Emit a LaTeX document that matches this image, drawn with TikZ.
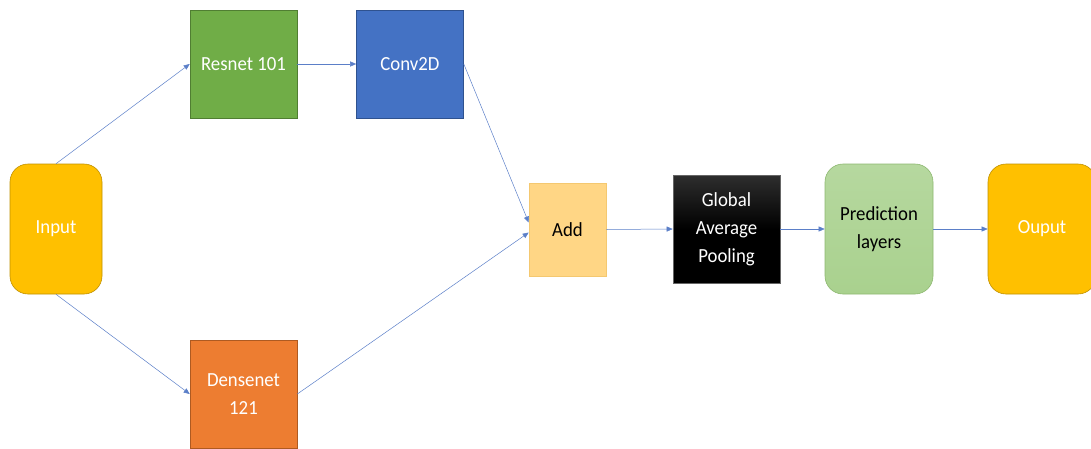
\documentclass[tikz,border=0pt]{standalone}
\usepackage{fontspec}
\setmainfont{Carlito}[FakeStretch=0.94]
\usetikzlibrary{arrows.meta,calc}
\definecolor{gold}{HTML}{FFC000}
\definecolor{goldline}{HTML}{BF9000}
\definecolor{resg}{HTML}{70AD47}
\definecolor{resgline}{HTML}{507E32}
\definecolor{convb}{HTML}{4472C4}
\definecolor{convbline}{HTML}{2F528F}
\definecolor{densor}{HTML}{ED7D31}
\definecolor{densorline}{HTML}{AE5A21}
\definecolor{addf}{HTML}{FFD685}
\definecolor{addline}{HTML}{F4C870}
\definecolor{predf}{HTML}{A9D18E}
\definecolor{predline}{HTML}{8DB870}
\definecolor{arrowc}{HTML}{5B7FC8}
\tikzset{
  x=1pt, y=-1pt,
  base/.style={draw, line width=0.6pt, inner sep=0pt, align=center,
    font=\fontsize{20}{28}\selectfont},
  roundbox/.style={base, rounded corners=18pt, minimum width=92pt, minimum height=130pt},
  sqbox/.style={base, minimum width=107pt, minimum height=108pt},
  conn/.style={draw=arrowc, line width=0.5pt, -{Triangle[length=6pt,width=5pt]}},
}
\begin{document}
\begin{tikzpicture}
\useasboundingbox (0,0) rectangle (1091,448);
\node[roundbox, fill=gold, draw=goldline, text=white] (in) at (56,229) {Input};
\node[sqbox, fill=resg, draw=resgline, text=white] (res) at (243.5,64) {Resnet 101};
\node[sqbox, fill=convb, draw=convbline, text=white] (conv) at (410,64) {Conv2D};
\node[sqbox, fill=densor, draw=densorline, text=white] (dense) at (243.5,394) {Densenet\\121};
\node[base, fill=addf, draw=addline, minimum width=77pt, minimum height=93pt, text=black] (add) at (567.5,229.5) {Add};
\node[sqbox, top color=black!82, bottom color=black, middle color=black, draw=black!60, text=white] (gap) at (726.5,229) {Global\\Average\\Pooling};
\node[roundbox, top color=predf!85!white, bottom color=predf, draw=predline, minimum width=108pt, text=black] (pred) at (879,229) {Prediction\\layers};
\node[roundbox, fill=gold, draw=goldline, minimum width=108pt, text=white] (out) at (1042,229) {Ouput};
\draw[conn] (in.north) -- (res.west);
\draw[conn] (in.south) -- (dense.west);
\draw[conn] (res.east) -- (conv.west);
\draw[conn] (conv.east) -- ([yshift=7pt]add.west);
\draw[conn] (dense.east) -- ([yshift=-3pt]add.west);
\draw[conn] (add.east) -- (gap.west);
\draw[conn] (gap.east) -- (pred.west);
\draw[conn] (pred.east) -- (out.west);
\end{tikzpicture}
\end{document}
